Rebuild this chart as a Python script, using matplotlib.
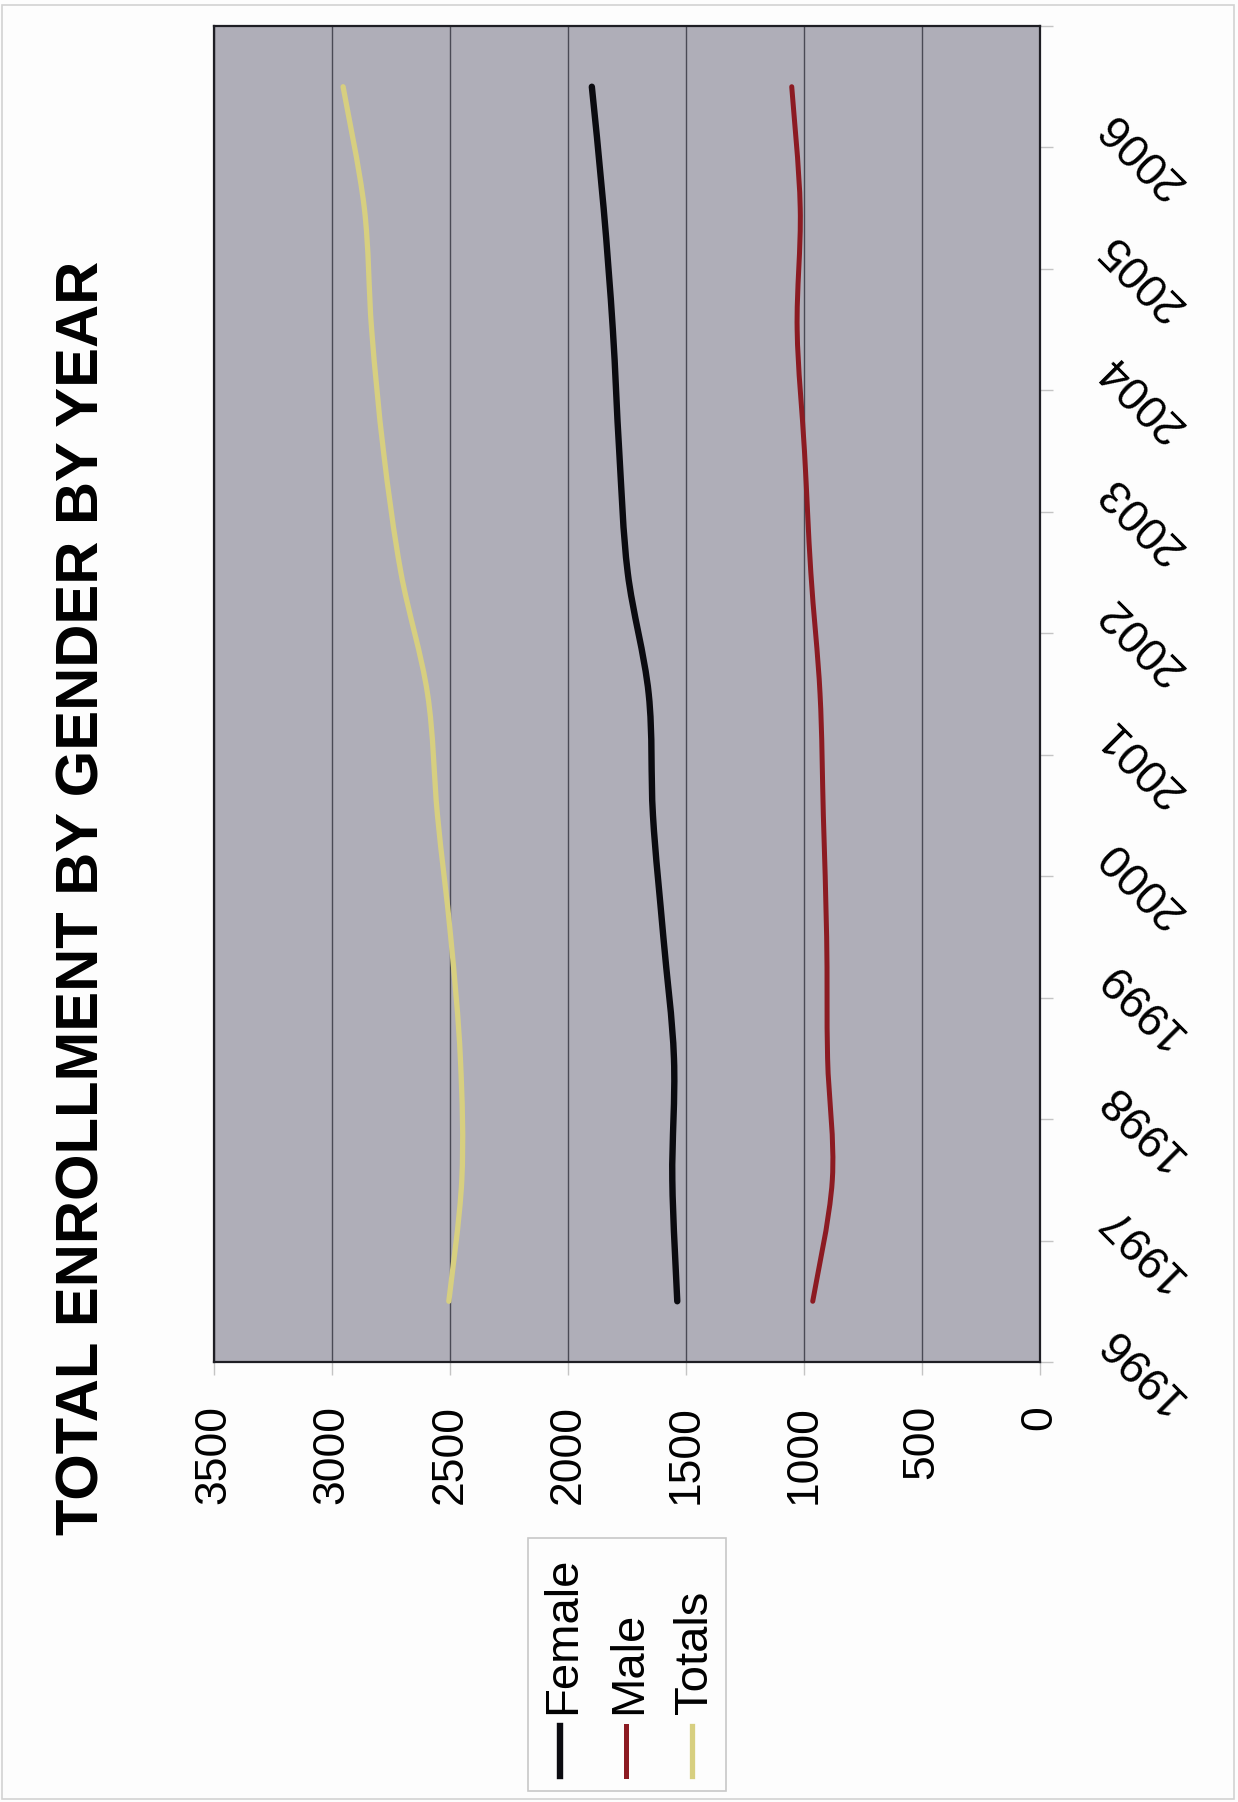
import matplotlib
matplotlib.use("Agg")
import matplotlib.pyplot as plt
import matplotlib.transforms as mtransforms
from matplotlib.lines import Line2D
from matplotlib.patches import Rectangle, PathPatch
from matplotlib.path import Path

# --- DATA ---
YEARS = [1996, 1997, 1998, 1999, 2000, 2001, 2002, 2003, 2004, 2005, 2006]
FEMALE = [1537, 1558, 1551, 1596, 1640, 1658, 1747, 1783, 1810, 1849, 1899]
MALE = [963, 880, 900, 904, 918, 932, 971, 998, 1029, 1016, 1052]
TOTALS = [2505, 2450, 2456, 2497, 2553, 2595, 2708, 2782, 2832, 2863, 2953]
SERIES_NAMES = ["Female", "Male", "Totals"]
VALUE_TICKS = [0, 500, 1000, 1500, 2000, 2500, 3000, 3500]
TITLE = "TOTAL ENROLLMENT BY GENDER BY YEAR"

# --- STYLE ---
W, H = 1238, 1802
COLORS = {"Female": "#0b0b10", "Male": "#8c1b22", "Totals": "#d7cf80"}
WIDTHS = {"Female": 4.6, "Male": 3.6, "Totals": 3.8}
PLOT_BG = "#afaeb8"
FONT = ["Liberation Sans", "DejaVu Sans"]

plt.rcParams["font.family"] = FONT


def fpos(x, y):
    """pixel position (top-left origin) -> figure fraction"""
    return x / W, 1 - y / H


def smooth_path(xs, ys):
    """Excel-like smoothed line: cubic bezier through every data point"""
    pts = list(zip(xs, ys))
    n = len(pts)
    verts = [pts[0]]
    codes = [Path.MOVETO]
    for i in range(n - 1):
        p_prev = pts[max(i - 1, 0)]
        p0, p1 = pts[i], pts[i + 1]
        p_next = pts[min(i + 2, n - 1)]
        c1 = (p0[0] + (p1[0] - p_prev[0]) / 6, p0[1] + (p1[1] - p_prev[1]) / 6)
        c2 = (p1[0] - (p_next[0] - p0[0]) / 6, p1[1] - (p_next[1] - p0[1]) / 6)
        verts += [c1, c2, p1]
        codes += [Path.CURVE4] * 3
    return Path(verts, codes)


fig = plt.figure(figsize=(W / 100, H / 100), dpi=100)
fig.patch.set_facecolor("#fdfdfd")

# page border of the scan
fig.add_artist(Rectangle(fpos(2, 1799), 1232 / W, 1794 / H, transform=fig.transFigure,
                         fill=False, edgecolor="#d2d2d2", linewidth=1.2))

left, right, top, bottom = 214, 1040, 26, 1362
ax = fig.add_axes([left / W, 1 - bottom / H, (right - left) / W, (bottom - top) / H])
ax.set_facecolor(PLOT_BG)

# chart is drawn rotated: values run right-to-left, years bottom-to-top
data = {"Female": FEMALE, "Male": MALE, "Totals": TOTALS}
for name in SERIES_NAMES:
    ax.add_patch(PathPatch(smooth_path(data[name], YEARS), fill=False,
                           edgecolor=COLORS[name], linewidth=WIDTHS[name],
                           capstyle="round", joinstyle="round", zorder=3))

ax.set_xlim(3500, 0)
ax.set_ylim(YEARS[0] - 0.5, YEARS[-1] + 0.5)

ax.set_xticks(VALUE_TICKS)
ax.set_xticklabels([str(v) for v in VALUE_TICKS], rotation=90)
ax.grid(axis="x", color="#4a4a55", linewidth=1.0)
ax.set_axisbelow(True)

ax.yaxis.tick_right()
ax.set_yticks([y - 0.5 for y in YEARS] + [YEARS[-1] + 0.5])
ax.set_yticklabels([])

ax.tick_params(axis="x", direction="out", length=9, width=1, color="#c4c4c4",
               labelsize=32, pad=22)
ax.tick_params(axis="y", direction="out", length=9, width=1, color="#c4c4c4")

for sp in ax.spines.values():
    sp.set_color("#1e1e24")
    sp.set_linewidth(1.6)

# year labels (rotated, sitting beside the right axis)
blend = mtransforms.blended_transform_factory(ax.transAxes, ax.transData)
label_tr = mtransforms.offset_copy(blend, fig=fig, x=0, y=-67, units="dots")
for yr in YEARS:
    ax.text((1141 - left) / (right - left), yr, str(yr), transform=label_tr,
            rotation=135, ha="center", va="center", fontsize=33, clip_on=False)

# title
fig.text(*fpos(83, 898), TITLE, rotation=90, ha="center", va="center",
         fontsize=43, fontweight="bold")

# legend, drawn rotated like the rest
fig.add_artist(Rectangle(fpos(528, 1791), 198 / W, 253 / H, transform=fig.transFigure,
                         fill=False, edgecolor="#c8c8c8", linewidth=1.2))
for name, xc in zip(SERIES_NAMES, [563, 629, 695]):
    x0, y0 = fpos(xc - 3, 1776)
    x1, y1 = fpos(xc - 3, 1726)
    fig.add_artist(Line2D([x0, x1], [y0, y1], transform=fig.transFigure,
                          color=COLORS[name], linewidth=WIDTHS[name]))
    fig.text(*fpos(xc, 1714), name, rotation=90, ha="center", va="bottom", fontsize=34)

plt.savefig("out.png", dpi=100)
plt.close()
